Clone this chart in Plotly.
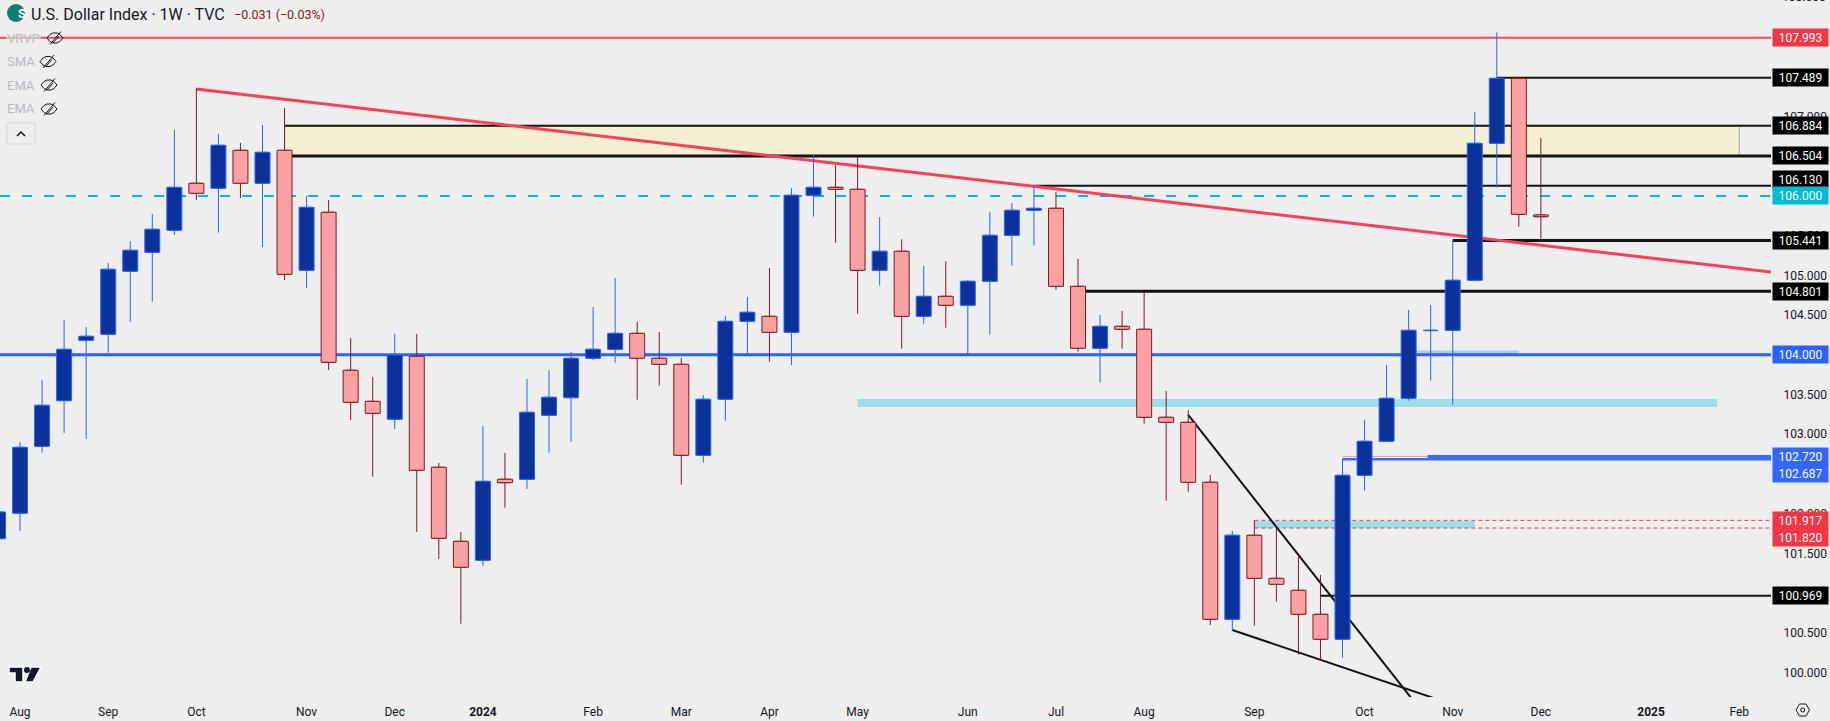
import plotly.graph_objects as go
import pandas as pd

# weekly bars
dates = pd.date_range("2023-07-31", periods=71, freq="7D")

opens = [101.686, 102.006, 102.849, 103.423, 104.183, 104.259, 105.052, 105.291, 105.568, 106.160,
         106.097, 106.575, 106.160, 106.575, 105.064, 105.795, 103.806, 103.415, 103.189, 103.982,
         102.585, 101.653, 101.414, 102.434, 102.434, 103.239, 103.461, 103.957, 104.070, 104.271,
         103.957, 103.881, 102.736, 103.441, 104.422, 104.485, 104.284, 106.009, 106.109, 106.084,
         105.064, 105.304, 104.485, 104.737, 104.624, 104.926, 105.505, 105.820, 105.845, 104.863,
         104.083, 104.359, 104.322, 103.214, 103.151, 102.396, 100.671, 101.729, 101.187, 101.036,
         100.734, 100.420, 102.484, 102.912, 103.453, 104.305, 104.309, 104.939, 106.663, 107.481,
         105.761]
highs = [102.047, 102.903, 103.684, 104.439, 104.351, 105.156, 105.433, 105.773, 106.831, 107.355,
         106.780, 106.667, 106.893, 107.107, 106.000, 105.949, 104.212, 103.721, 104.263, 104.263,
         102.639, 101.770, 103.105, 102.765, 103.696, 103.809, 104.040, 104.602, 104.968, 104.414,
         104.288, 103.960, 103.495, 104.489, 104.728, 105.093, 106.100, 106.516, 106.390, 106.487,
         105.735, 105.455, 105.119, 105.178, 104.942, 105.798, 105.912, 106.129, 106.046, 105.207,
         104.502, 104.552, 104.795, 103.545, 103.306, 102.488, 101.783, 101.917, 101.817, 101.459,
         101.229, 102.689, 103.180, 103.872, 104.565, 104.628, 105.437, 107.057, 108.060, 107.494,
         106.730]
lows = [101.682, 101.783, 102.768, 103.016, 102.941, 104.027, 104.417, 104.669, 105.509, 105.949,
        105.538, 105.975, 105.358, 104.942, 104.842, 103.809, 103.180, 102.466, 103.067, 101.770,
        101.430, 100.616, 101.346, 102.076, 102.311, 102.768, 102.907, 103.935, 103.901, 103.436,
        103.612, 102.366, 102.642, 103.171, 103.994, 103.914, 103.872, 105.739, 105.412, 104.518,
        104.871, 104.078, 104.392, 104.342, 104.002, 104.254, 105.122, 105.374, 104.820, 104.040,
        103.650, 104.078, 103.133, 102.164, 102.277, 100.599, 100.528, 100.591, 100.893, 100.226,
        100.168, 100.188, 102.290, 102.912, 103.423, 103.675, 103.373, 104.939, 106.104, 105.613,
        105.424]
closes = [102.022, 102.836, 103.365, 104.070, 104.234, 105.077, 105.316, 105.581, 106.109, 106.034,
          106.638, 106.160, 106.550, 105.014, 105.857, 103.906, 103.403, 103.264, 103.998, 102.547,
          101.691, 101.326, 102.408, 102.391, 103.277, 103.466, 103.957, 104.070, 104.271, 103.957,
          103.881, 102.736, 103.441, 104.422, 104.536, 104.284, 106.009, 106.109, 106.084, 105.064,
          105.304, 104.485, 104.737, 104.624, 104.926, 105.505, 105.820, 105.845, 104.863, 104.083,
          104.359, 104.322, 103.214, 103.151, 102.396, 100.671, 101.729, 101.187, 101.112, 100.734,
          100.420, 102.484, 102.912, 103.453, 104.309, 104.309, 104.939, 106.663, 107.481, 105.769,
          105.739]

tick_dates = ["2023-08-07", "2023-09-04", "2023-10-02", "2023-11-06", "2023-12-04", "2024-01-01",
              "2024-02-05", "2024-03-04", "2024-04-01", "2024-04-29", "2024-06-03", "2024-07-01",
              "2024-07-29", "2024-09-02", "2024-10-07", "2024-11-04", "2024-12-02", "2025-01-06",
              "2025-02-03"]
tick_text = ["Aug", "Sep", "Oct", "Nov", "Dec", "<b>2024</b>", "Feb", "Mar", "Apr", "May", "Jun", "Jul",
             "Aug", "Sep", "Oct", "Nov", "Dec", "<b>2025</b>", "Feb"]

x_left = "2023-07-31 15:14"
x_right = "2025-02-13 02:00"
y_low = 99.693
y_high = 108.467

level_starts = [x_left, "2024-11-18", "2023-10-30", "2023-10-30", "2024-06-24", x_left, "2024-11-04",
                "2024-07-08", x_left, "2024-10-27", "2024-09-30", "2024-09-02", "2024-09-02", "2024-09-23"]
level_prices = [107.993, 107.489, 106.884, 106.504, 106.130, 106.000, 105.441,
                104.801, 104.000, 102.720, 102.687, 101.917, 101.820, 100.969]
level_colors = ["#F7485A", "#131313", "#131313", "#131313", "#131313", "#00BCD4", "#131313",
                "#131313", "#2962FF", "#3D6BFF", "#3D6BFF", "#F23645", "#F23645", "#131313"]
level_widths = [2, 2, 2, 3, 2, 2, 3, 3, 3, 3, 2.5, 1, 1, 2]
level_dashes = ["solid", "solid", "solid", "solid", "solid", "10px,12px", "solid",
                "solid", "solid", "solid", "solid", "4px,3px", "4px,3px", "solid"]

# price tags on the axis: text, colour, nudge up/down so they stack like the original
tag_prices = level_prices
tag_text = ["107.993", "107.489", "106.884", "106.504", "106.130", "106.000", "105.441",
            "104.801", "104.000", "102.720", "102.687", "101.917", "101.820", "100.969"]
tag_colors = ["#F23645", "#000000", "#000000", "#000000", "#000000", "#00BCD4", "#000000",
              "#000000", "#2962FF", "#3366FF", "#3366FF", "#F23645", "#F23645", "#000000"]
tag_shift = [0, 0, 0, 0, 6.5, 0, 0, 0, 0, 0, -14, 0, -9, 0]

trend_x = ["2023-10-02", x_right]
trend_y = [107.347, 105.043]
wedge_top_x = ["2024-08-12", "2024-10-22 08:00"]
wedge_top_y = [103.243, 99.655]
wedge_low_x = ["2024-08-26", "2024-10-30 14:00"]
wedge_low_y = [100.537, 99.658]
pink_x = ["2024-09-30", "2024-10-27"]
pink_y = [102.720, 102.720]

PLOT_W = 1771
PLOT_H = 697
BG = "#EEEEEE"
UP_LINE = "#2962FF"
UP_FILL = "#0C3299"
DOWN_LINE = "#801922"
DOWN_FILL = "#FAA1A4"
BODY_MS = 411000000  # candlestick bodies can't be widened, so they are drawn as bars


def px(x):
    return x / PLOT_W


def py(y):
    return 1 - y / PLOT_H


def path_shape(points, close=True, fill=None, color="#131722", width=1):
    # little chart furniture (icons), points given in screen pixels
    d = ""
    for i, (x, y) in enumerate(points):
        d += ("M" if i == 0 else "L") + f"{px(x):.5f},{py(y):.5f} "
    if close:
        d += "Z"
    return dict(type="path", path=d, xref="paper", yref="paper", fillcolor=fill,
                line=dict(color=color, width=width), layer="above")


def eye_icon(cx, cy):
    pts = [(cx - 8, cy), (cx - 5, cy - 3.5), (cx - 2, cy - 5), (cx + 2, cy - 5), (cx + 5, cy - 3.5), (cx + 8, cy),
           (cx + 5, cy + 3.5), (cx + 2, cy + 5), (cx - 2, cy + 5), (cx - 5, cy + 3.5)]
    return [path_shape(pts, width=1),
            path_shape([(cx - 5, cy + 6.5), (cx + 6, cy - 6.5)], close=False, width=1),
            path_shape([(cx - 2, cy + 5), (cx + 4, cy - 2)], close=False, width=1)]


fig = go.Figure()

fig.add_trace(go.Candlestick(
    x=dates, open=opens, high=highs, low=lows, close=closes, zorder=2,
    increasing=dict(line=dict(color=UP_LINE, width=1), fillcolor=UP_FILL),
    decreasing=dict(line=dict(color=DOWN_LINE, width=1), fillcolor=DOWN_FILL),
    whiskerwidth=0, showlegend=False))

is_up = [c >= o for o, c in zip(opens, closes)]
fig.add_trace(go.Bar(
    x=dates, base=[min(o, c) for o, c in zip(opens, closes)], y=[abs(c - o) for o, c in zip(opens, closes)],
    width=BODY_MS, zorder=3, showlegend=False,
    marker=dict(color=[UP_FILL if u else DOWN_FILL for u in is_up],
                line=dict(color=[UP_LINE if u else DOWN_LINE for u in is_up], width=1))))

for start, price, color, width, dash in zip(level_starts, level_prices, level_colors, level_widths, level_dashes):
    fig.add_trace(go.Scatter(x=[start, x_right], y=[price, price], mode="lines", showlegend=False, zorder=1,
                             line=dict(color=color, width=width, dash=dash)))

fig.add_trace(go.Scatter(x=trend_x, y=trend_y, mode="lines", showlegend=False, zorder=1,
                         line=dict(color="#F7405A", width=3)))
fig.add_trace(go.Scatter(x=wedge_top_x, y=wedge_top_y, mode="lines", showlegend=False, zorder=1,
                         line=dict(color="#131313", width=2)))
fig.add_trace(go.Scatter(x=wedge_low_x, y=wedge_low_y, mode="lines", showlegend=False, zorder=1,
                         line=dict(color="#131313", width=2)))
fig.add_trace(go.Scatter(x=pink_x, y=pink_y, mode="lines", showlegend=False, zorder=1,
                         line=dict(color="#E8A0A0", width=1)))

# zones
fig.add_shape(type="rect", x0="2023-10-30", x1="2025-02-03", y0=106.504, y1=106.884, layer="below",
              fillcolor="#F5EFD3", line=dict(color="#A8A594", width=1))
fig.add_shape(type="rect", x0="2024-04-29", x1="2025-01-27", y0=103.344, y1=103.444, layer="below",
              fillcolor="#9CDFE6", line=dict(width=0))
fig.add_shape(type="rect", x0="2024-09-02", x1="2024-11-11", y0=101.820, y1=101.909, layer="below",
              fillcolor="#9CDFE6", line=dict(width=0))
fig.add_shape(type="rect", x0="2024-10-21", x1="2024-11-25", y0=103.998, y1=104.055, layer="below",
              fillcolor="#B4C6F2", line=dict(width=0))

for price, text, color, shift in zip(tag_prices, tag_text, tag_colors, tag_shift):
    fig.add_annotation(x=1, xref="paper", y=price, yref="y", xanchor="left", xshift=1, yshift=shift,
                       text=text, showarrow=False, bgcolor=color, width=55, height=17, borderpad=0,
                       font=dict(color="white", size=12))

# clipped label at the very top of the price scale
fig.add_annotation(x=1, xref="paper", y=py(-2.6), yref="paper", xanchor="left", yanchor="middle", xshift=9,
                   text="108.500", showarrow=False, font=dict(color="#131722", size=12))

# header
fig.add_annotation(x=px(29), xref="paper", y=py(14), yref="paper", xanchor="left", yanchor="middle",
                   showarrow=False, text="U.S. Dollar Index · 1W · TVC", font=dict(color="#131722", size=16))
fig.add_annotation(x=px(232), xref="paper", y=py(14), yref="paper", xanchor="left", yanchor="middle",
                   showarrow=False, text="−0.031 (−0.03%)", font=dict(color="#801922", size=12.5))
fig.add_shape(type="circle", xref="paper", yref="paper", x0=px(7), x1=px(25), y0=py(4), y1=py(22),
              fillcolor="#0E7F6D", line=dict(width=0), layer="below")
fig.add_annotation(x=px(16), xref="paper", y=py(13), yref="paper", yanchor="middle", showarrow=False,
                   text="<b>S</b>", font=dict(color="white", size=13))

# collapsed indicators
for name, y, eye_x in zip(["VRVP", "SMA", "EMA", "EMA"], [38, 61.5, 85, 109], [55, 48, 49, 49]):
    fig.add_annotation(x=px(6), xref="paper", y=py(y), yref="paper", xanchor="left", yanchor="middle",
                       showarrow=False, borderpad=0, text=name, font=dict(color="#B8BAC4", size=13),
                       bgcolor="rgba(238,238,238,0.6)" if name == "VRVP" else None)
    for s in eye_icon(eye_x, y):
        fig.add_shape(**s)

# collapse button
fig.add_shape(type="rect", xref="paper", yref="paper", x0=px(7), x1=px(35), y0=py(123), y1=py(144),
              line=dict(color="#D3D5DD", width=1), layer="above")
fig.add_shape(**path_shape([(17, 136), (21, 132), (25, 136)], close=False, width=1.5))

# tradingview mark
fig.add_shape(**path_shape([(9, 667), (23, 667), (23, 682), (15, 682), (15, 673), (9, 673)],
                           fill="#131722", color="white", width=1.5))
fig.add_shape(**path_shape([(31, 667), (41, 667), (33, 682), (25, 682)], fill="#131722", color="white", width=1.5))
fig.add_shape(type="circle", xref="paper", yref="paper", x0=px(24), x1=px(30), y0=py(667), y1=py(673),
              fillcolor="#131722", line=dict(width=0), layer="above")

# settings icon
fig.add_shape(**path_shape([(1796, 710), (1799.5, 704), (1806, 704), (1809.5, 710), (1806, 716), (1799.5, 716)],
                           width=1))
fig.add_shape(type="circle", xref="paper", yref="paper", x0=px(1800.7), x1=px(1804.7), y0=py(708), y1=py(712),
              line=dict(color="#131722", width=1), layer="above")

fig.update_xaxes(range=[x_left, x_right], type="date", rangeslider_visible=False, showgrid=False, zeroline=False,
                 tickmode="array", tickvals=tick_dates, ticktext=tick_text, tickangle=0,
                 ticks="outside", ticklen=4, tickcolor=BG, tickfont=dict(color="#131722", size=12))
fig.update_yaxes(range=[y_low, y_high], side="right", showgrid=False, zeroline=False, dtick=0.5, tick0=100,
                 tickformat=".3f", ticks="outside", ticklen=9, tickcolor=BG,
                 tickfont=dict(color="#131722", size=12))

fig.update_layout(width=1830, height=721, margin=dict(l=0, r=59, t=0, b=24), barmode="overlay",
                  paper_bgcolor=BG, plot_bgcolor=BG, showlegend=False,
                  font=dict(family="Roboto, sans-serif"), hovermode=False)

# the page's default body margin would push the chart 8px off the window
fig.write_html("out.html", config=dict(displayModeBar=False),
               post_script="document.body.style.margin='0';document.body.style.overflow='hidden';")
